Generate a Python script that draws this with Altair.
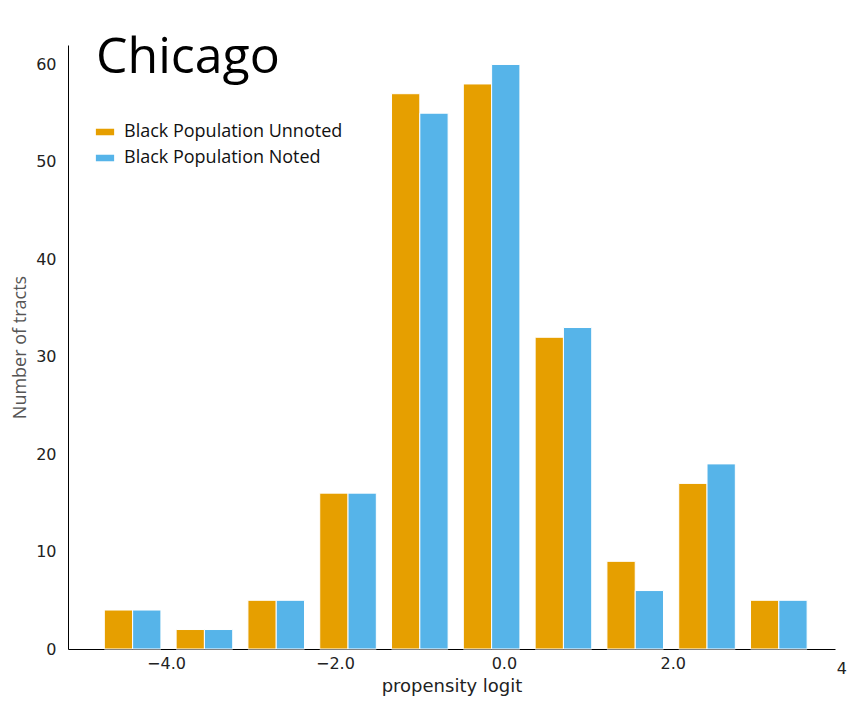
import pandas as pd
import altair as alt

bin_left = [-4.73, -3.88, -3.03, -2.18, -1.33, -0.48, 0.37, 1.22, 2.07, 2.92]
unnoted = [4, 2, 5, 16, 57, 58, 32, 9, 17, 5]
noted = [4, 2, 5, 16, 55, 60, 33, 6, 19, 5]
groups = ["Black Population Unnoted", "Black Population Noted"]
colors = ["#E69F00", "#56B4E9"]

bar_w = 0.335
rows = []
for b, u, n in zip(bin_left, unnoted, noted):
    rows.append({"x0": b, "x1": b + bar_w, "count": u, "group": groups[0]})
    rows.append({"x0": b + bar_w, "x1": b + 2 * bar_w, "count": n, "group": groups[1]})
df = pd.DataFrame(rows)

xscale = alt.Scale(domain=[-5.16, 3.92], nice=False, zero=False)
yscale = alt.Scale(domain=[0, 62], nice=False)

bars = alt.Chart(df).mark_bar(stroke="white", strokeWidth=1).encode(
    x=alt.X("x0:Q", scale=xscale, title="propensity logit",
            axis=alt.Axis(values=[-4, -2, 0, 2], grid=False, ticks=False, domainColor="black",
                          labelFontSize=16, labelColor="#222", titleFontSize=18,
                          titleFontWeight="normal", titleColor="#222", labelFont="DejaVu Sans",
                          titleFont="DejaVu Sans", labelPadding=6, titlePadding=6,
                          labelFlush=False)),
    x2="x1:Q",
    y=alt.Y("count:Q", scale=yscale, title="Number of tracts",
            axis=alt.Axis(values=[0, 10, 20, 30, 40, 50, 60], grid=False, ticks=False,
                          domainColor="black", labelFontSize=16, labelColor="#222",
                          titleFontSize=18, titleFontWeight="normal", titleColor="#555",
                          titleFont="Open Sans", labelFont="DejaVu Sans", labelPadding=12,
                          titlePadding=6, labelFlush=False)),
    y2=alt.datum(0),
    color=alt.Color("group:N", scale=alt.Scale(domain=groups, range=colors), title=None,
                    legend=alt.Legend(orient="none", legendX=28, legendY=78, labelLimit=0,
                                      symbolType="M-1.4,-0.5H1.4V0.5H-1.4Z", symbolSize=170,
                                      symbolStrokeWidth=0, labelFontSize=18, labelFont="Open Sans",
                                      labelColor="#111", rowPadding=8, labelOffset=10)),
)

four = alt.Chart(pd.DataFrame({"v": [4], "t": ["4"]})).mark_text(
    fontSize=16, font="DejaVu Sans", color="#222", baseline="top", dy=12, clip=False
).encode(x=alt.X("v:Q", scale=xscale), y=alt.value(604), text="t:N")

title = alt.Chart(pd.DataFrame({"t": ["Chicago"]})).mark_text(
    fontSize=50, font="Open Sans", color="black", align="left", baseline="top"
).encode(x=alt.value(28), y=alt.value(-12), text="t:N")

chart = (bars + four + title).properties(
    width=767, height=604, padding={"left": 60, "top": 37, "right": 13, "bottom": 60},
    autosize=alt.AutoSizeParams(type="none"),
).configure_view(stroke=None)

chart.save("out.html", embed_options={"renderer": "svg", "actions": False})
